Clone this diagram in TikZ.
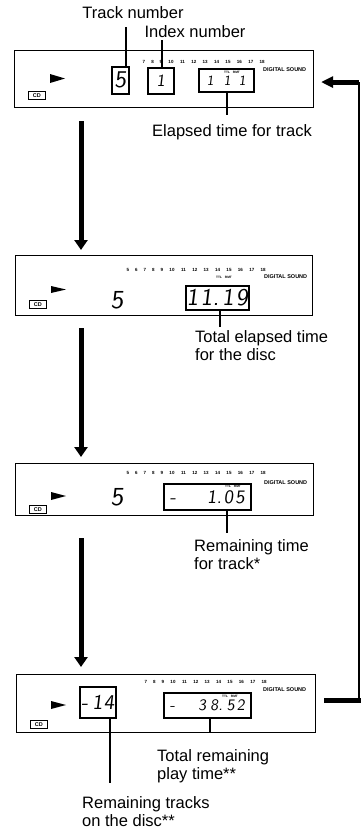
\documentclass[tikz,border=0pt]{standalone}
\usepackage{fontspec}
\setmainfont{Liberation Sans}
\newfontfamily\lcd[FakeSlant=0.12]{lmsans10-regular.otf}
\usetikzlibrary{arrows.meta}

\begin{document}
\begin{tikzpicture}[x=1pt, y=-1pt,
		panel/.style={draw, line width=1.1pt, anchor=north west, inner sep=0pt},
		win/.style={draw, line width=1.7pt, anchor=north west, inner sep=0pt},
		seg/.style={font=\lcd\fontsize{#1}{#1}\selectfont},
		num/.style={font=\fontsize{4.5}{5}\selectfont\bfseries, inner sep=0pt},
		tag/.style={font=\fontsize{5.5}{6}\selectfont\bfseries, inner sep=0pt, anchor=west},
		mini/.style={font=\fontsize{3.2}{4}\selectfont\bfseries, inner sep=0pt},
		cdbox/.style={draw, line width=0.9pt, anchor=north west, inner sep=0pt,
			minimum width=17pt, minimum height=8pt, font=\fontsize{5.5}{6}\selectfont\bfseries},
		lbl/.style={font=\fontsize{16.5}{18}\selectfont, inner sep=0pt, align=left},
		lead/.style={line width=1.4pt},
		flow/.style={-{Triangle[width=13pt,length=10pt]}, line width=5pt}
	]
	\useasboundingbox (0,0) rectangle (361,831);
	
	% display 1: track / index / elapsed time
	\node[panel, minimum width=299pt, minimum height=57pt] (p1) at (14,50) {};
	\begin{scope}[shift={(14,50)}]
		\foreach \n in {7,...,18}
			\node[num] (a\n) at ({\n<10 ? 113+(\n-5)*8.5 : 157+(\n-10)*11.4},12) {\n};
		\node[win, minimum width=17pt, minimum height=27pt, seg=24] (trk) at (97,16) {5};
		\node[win, minimum width=26pt, minimum height=26pt, seg=17] (idx) at (133,17) {1};
		\node[win, minimum width=55pt, minimum height=23pt, seg=14] (ela) at (184,18) {1\hspace{10pt}1\hspace{8pt}1};
		\node[mini] (ttl1) at (218,22) {TTL\hspace{3pt}RMT};
		\node[tag] (ds1) at (249,20) {DIGITAL SOUND};
		\fill (36,24) -- (51,28.5) -- (36,33) -- cycle;
		\node[cdbox] (cd1) at (14,41) {CD};
	\end{scope}
	
	\node[lbl] (trkl) at (133,13) {Track number};
	\node[lbl] (idxl) at (195,32) {Index number};
	\node[lbl] (elal) at (232,132) {Elapsed time for track};
	\coordinate (t1) at (126,27);
	\coordinate (t2) at (162,40);
	\coordinate (t3) at (227,115);
	\draw[lead] (t1) -- (t1 |- trk.north);
	\draw[lead] (t2) -- (t2 |- idx.north);
	\draw[lead] (ela.south -| t3) -- (t3);
	
	% display 2: total elapsed time
	\node[panel, minimum width=297pt, minimum height=60pt] (p2) at (15,255) {};
	\begin{scope}[shift={(15,255)}]
		\foreach \n in {5,...,18}
			\node[num] (b\n) at ({\n<10 ? 113+(\n-5)*8.5 : 157+(\n-10)*11.4},15) {\n};
		\node[seg=26] (big2) at (102,45) {5};
		\node[win, minimum width=63pt, minimum height=24pt, seg=24] (tot) at (170,30) {1\hspace{2pt}1.\hspace{3pt}1\hspace{2pt}9};
		\node[mini] (ttl2) at (209,22) {TTL\hspace{3pt}RMT};
		\node[tag] (ds2) at (249,22) {DIGITAL SOUND};
		\fill (36,31) -- (51,34.5) -- (36,38) -- cycle;
		\node[cdbox] (cd2) at (14,45) {CD};
	\end{scope}
	
	\node[lbl, anchor=west] (totl) at (195,346) {Total elapsed time\\for the disc};
	\coordinate (t4) at (220,327);
	\draw[lead] (tot.south -| t4) -- (t4);
	
	% display 3: remaining time for track
	\node[panel, minimum width=298pt, minimum height=52pt] (p3) at (15,463) {};
	\begin{scope}[shift={(15,463)}]
		\foreach \n in {5,...,18}
			\node[num] (c\n) at ({\n<10 ? 113+(\n-5)*8.5 : 157+(\n-10)*11.4},10) {\n};
		\node[seg=26] (big3) at (102,34) {5};
		\node[win, minimum width=87pt, minimum height=26pt, seg=19, text width=75pt] (rtr) at (148,20) {-\hfill 1.\hspace{2pt}0\hspace{2pt}5};
		\node[mini] (ttl3) at (218,23) {TTL\hspace{3pt}RMT};
		\node[tag] (ds3) at (249,20) {DIGITAL SOUND};
		\fill (36,29) -- (51,33) -- (36,37) -- cycle;
		\node[cdbox] (cd3) at (14,42) {CD};
	\end{scope}
	
	\node[lbl, anchor=west] (rtrl) at (194,555) {Remaining time\\for track*};
	\coordinate (t5) at (227,533);
	\draw[lead] (rtr.south -| t5) -- (t5);
	
	% display 4: remaining tracks / total remaining time
	\node[panel, minimum width=299pt, minimum height=58pt] (p4) at (16,674) {};
	\begin{scope}[shift={(16,674)}]
		\foreach \n in {7,...,18}
			\node[num] (d\n) at ({\n<10 ? 113+(\n-5)*8.5 : 157+(\n-10)*11.4},8) {\n};
		\node[win, minimum width=36pt, minimum height=31pt, seg=21, text width=33pt] (rem) at (63,12) {-\hfill 1\hspace{1pt}4};
		\node[win, minimum width=87pt, minimum height=25pt, seg=16, text width=75pt] (trm) at (147,18) {-\hfill 3\hspace{4pt}8.\hspace{4pt}5\hspace{2pt}2};
		\node[mini] (ttl4) at (214,22) {TTL\hspace{3pt}RMT};
		\node[tag] (ds4) at (247,16) {DIGITAL SOUND};
		\fill (35,27) -- (50,31) -- (35,35) -- cycle;
		\node[cdbox] (cd4) at (14,46) {CD};
	\end{scope}
	
	\node[lbl, anchor=west] (trml) at (157,766) {Total remaining\\play time**};
	\node[lbl, anchor=west] (reml) at (82,812) {Remaining tracks\\on the disc**};
	\coordinate (t6) at (210,733);
	\coordinate (t7) at (110,783);
	\draw[lead] (trm.south -| t6) -- (t6);
	\draw[lead] (rem.south -| t7) -- (t7);
	
	% step arrows
	\coordinate (ax) at (81,0);
	\draw[flow, shorten <=13pt, shorten >=5pt] (p1.south -| ax) -- (p2.north -| ax);
	\draw[flow, shorten <=12pt, shorten >=6pt] (p2.south -| ax) -- (p3.north -| ax);
	\draw[flow, shorten <=22pt, shorten >=7pt] (p3.south -| ax) -- (p4.north -| ax);
	
	% back to the first display
	\coordinate (rt) at (359,0);
	\coordinate (c4) at ([xshift=10pt,yshift=3pt]p4.east);
	\coordinate (c1) at ([xshift=7pt,yshift=-3pt]p1.east);
	\draw[line width=5pt, line cap=rect] (c4) -- (c4 -| rt);
	\draw[line width=1.2pt] (c4 -| rt) -- (c1 -| rt);
	\draw[-{Triangle[width=11pt,length=12pt]}, line width=5pt] (c1 -| rt) -- (c1);
	
\end{tikzpicture}
\end{document}
